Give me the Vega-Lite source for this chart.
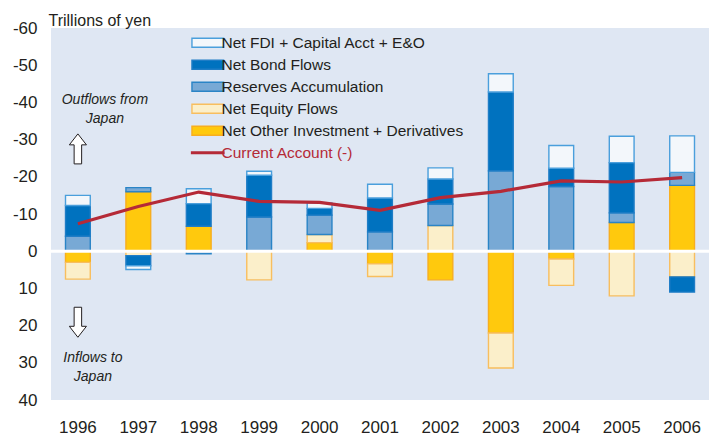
{
  "$schema": "https://vega.github.io/schema/vega-lite/v6.json",
  "width": 658,
  "height": 372,
  "autosize": {"type": "none"},
  "padding": {"left": 51, "top": 28, "right": 0, "bottom": 35},
  "background": "white",
  "config": {
    "view": {"fill": "#dfe7f3", "stroke": null},
    "font": "Liberation Sans",
    "axis": {"domain": false, "ticks": false, "grid": false, "labelColor": "#231f20", "labelFontSize": 17, "labelFont": "Liberation Sans", "labelOverlap": false},
    "axisY": {
      "values": [-60, -50, -40, -30, -20, -10, 0, 10, 20, 30, 40],
      "tickCount": 11,
      "labelOverlap": false,
      "labelSeparation": 0,
      "labelExpr": "'' + datum.value",
      "labelPadding": 14,
      "titleAngle": 0,
      "titleAlign": "left",
      "titleBaseline": "alphabetic",
      "titleX": -3,
      "titleY": -3,
      "titleFontSize": 16,
      "titleFontWeight": "normal",
      "titleColor": "#231f20",
      "titleFont": "Liberation Sans"
    },
    "legend": {
      "title": null,
      "orient": "none",
      "legendX": 149,
      "legendY": 7,
      "symbolSize": 729,
      "symbolStrokeWidth": 1.4,
      "labelOffset": 6,
      "labelFontSize": 15.5,
      "labelFont": "Liberation Sans",
      "labelLimit": 400,
      "rowPadding": 5,
      "padding": 0
    }
  },
  "datasets": {
    "flows": [
      {"year": "1996", "series": "Reserves Accumulation", "value": -4.0},
      {"year": "1996", "series": "Net Bond Flows", "value": -8.3},
      {"year": "1996", "series": "Net FDI + Capital Acct + E&O", "value": -2.7},
      {"year": "1996", "series": "Net Other Investment + Derivatives", "value": 3.0},
      {"year": "1996", "series": "Net Equity Flows", "value": 4.5},
      {"year": "1997", "series": "Net Other Investment + Derivatives", "value": -16.0},
      {"year": "1997", "series": "Reserves Accumulation", "value": -1.1},
      {"year": "1997", "series": "Net Equity Flows", "value": 1.2},
      {"year": "1997", "series": "Net Bond Flows", "value": 2.7},
      {"year": "1997", "series": "Net FDI + Capital Acct + E&O", "value": 1.0},
      {"year": "1998", "series": "Net Other Investment + Derivatives", "value": -6.7},
      {"year": "1998", "series": "Net Bond Flows", "value": -6.1},
      {"year": "1998", "series": "Net FDI + Capital Acct + E&O", "value": -4.0},
      {"year": "1998", "series": "Reserves Accumulation", "value": 0.7},
      {"year": "1999", "series": "Reserves Accumulation", "value": -9.2},
      {"year": "1999", "series": "Net Bond Flows", "value": -11.2},
      {"year": "1999", "series": "Net FDI + Capital Acct + E&O", "value": -1.1},
      {"year": "1999", "series": "Net Equity Flows", "value": 7.7},
      {"year": "2000", "series": "Net Other Investment + Derivatives", "value": -2.3},
      {"year": "2000", "series": "Net Equity Flows", "value": -2.2},
      {"year": "2000", "series": "Reserves Accumulation", "value": -5.2},
      {"year": "2000", "series": "Net Bond Flows", "value": -1.8},
      {"year": "2000", "series": "Net FDI + Capital Acct + E&O", "value": -1.5},
      {"year": "2001", "series": "Reserves Accumulation", "value": -5.2},
      {"year": "2001", "series": "Net Bond Flows", "value": -9.1},
      {"year": "2001", "series": "Net FDI + Capital Acct + E&O", "value": -3.7},
      {"year": "2001", "series": "Net Other Investment + Derivatives", "value": 3.4},
      {"year": "2001", "series": "Net Equity Flows", "value": 3.4},
      {"year": "2002", "series": "Net Equity Flows", "value": -6.9},
      {"year": "2002", "series": "Reserves Accumulation", "value": -5.8},
      {"year": "2002", "series": "Net Bond Flows", "value": -6.7},
      {"year": "2002", "series": "Net FDI + Capital Acct + E&O", "value": -3.0},
      {"year": "2002", "series": "Net Other Investment + Derivatives", "value": 7.7},
      {"year": "2003", "series": "Reserves Accumulation", "value": -21.6},
      {"year": "2003", "series": "Net Bond Flows", "value": -21.2},
      {"year": "2003", "series": "Net FDI + Capital Acct + E&O", "value": -4.9},
      {"year": "2003", "series": "Net Other Investment + Derivatives", "value": 22.0},
      {"year": "2003", "series": "Net Equity Flows", "value": 9.4},
      {"year": "2004", "series": "Reserves Accumulation", "value": -17.4},
      {"year": "2004", "series": "Net Bond Flows", "value": -4.9},
      {"year": "2004", "series": "Net FDI + Capital Acct + E&O", "value": -6.1},
      {"year": "2004", "series": "Net Other Investment + Derivatives", "value": 2.1},
      {"year": "2004", "series": "Net Equity Flows", "value": 7.1},
      {"year": "2005", "series": "Net Other Investment + Derivatives", "value": -7.7},
      {"year": "2005", "series": "Reserves Accumulation", "value": -2.6},
      {"year": "2005", "series": "Net Bond Flows", "value": -13.5},
      {"year": "2005", "series": "Net FDI + Capital Acct + E&O", "value": -7.1},
      {"year": "2005", "series": "Net Equity Flows", "value": 12.0},
      {"year": "2006", "series": "Net Other Investment + Derivatives", "value": -17.7},
      {"year": "2006", "series": "Reserves Accumulation", "value": -3.5},
      {"year": "2006", "series": "Net FDI + Capital Acct + E&O", "value": -9.8},
      {"year": "2006", "series": "Net Equity Flows", "value": 6.9},
      {"year": "2006", "series": "Net Bond Flows", "value": 4.1}
    ],
    "ca": [
      {"year": "1996", "series": "Current Account (-)", "value": -7.4},
      {"year": "1997", "series": "Current Account (-)", "value": -12.0},
      {"year": "1998", "series": "Current Account (-)", "value": -15.9},
      {"year": "1999", "series": "Current Account (-)", "value": -13.4},
      {"year": "2000", "series": "Current Account (-)", "value": -13.1},
      {"year": "2001", "series": "Current Account (-)", "value": -11.0},
      {"year": "2002", "series": "Current Account (-)", "value": -14.4},
      {"year": "2003", "series": "Current Account (-)", "value": -16.1},
      {"year": "2004", "series": "Current Account (-)", "value": -18.9},
      {"year": "2005", "series": "Current Account (-)", "value": -18.6},
      {"year": "2006", "series": "Current Account (-)", "value": -19.8}
    ],
    "arrows": [
      {"year": "1996", "value": -27.5, "dir": "up"},
      {"year": "1996", "value": 19.1, "dir": "down"}
    ]
  },
  "layer": [
    {
      "data": {"name": "flows"},
      "transform": [
        {"calculate": "indexof(['Net Other Investment + Derivatives','Net Equity Flows','Reserves Accumulation','Net Bond Flows','Net FDI + Capital Acct + E&O'], datum.series)", "as": "k"}
      ],
      "mark": {"type": "bar", "strokeWidth": 1.4},
      "encoding": {
        "x": {
          "field": "year", "type": "nominal",
          "scale": {"paddingInner": 0.59, "paddingOuter": 0.24},
          "axis": {"title": null, "labelAngle": 0, "labelPadding": 19, "labelBaseline": "top"}
        },
        "y": {
          "field": "value", "type": "quantitative", "stack": "zero",
          "scale": {"domain": [-60, 40], "reverse": true, "nice": false, "zero": false},
          "axis": {"title": "Trillions of yen", "values": [-60, -50, -40, -30, -20, -10, 0, 10, 20, 30, 40], "labelOverlap": false, "tickCount": 11}
        },
        "color": {
          "field": "series", "type": "nominal",
          "scale": {
            "domain": ["Net FDI + Capital Acct + E&O", "Net Bond Flows", "Reserves Accumulation", "Net Equity Flows", "Net Other Investment + Derivatives", "Current Account (-)"],
            "range": ["#f3f7fb", "#0072bf", "#78a9d5", "#fbefca", "#ffc90d", "#b52a37"]
          },
          "legend": {
            "encode": {
              "symbols": {
                "update": {
                  "shape": {"signal": "datum.value == 'Current Account (-)' ? 'M-1.25,0H1.25' : 'M-1.17,-0.33H1.17V0.33H-1.17Z'"},
                  "strokeWidth": {"signal": "datum.value == 'Current Account (-)' ? 3 : 1.4"}
                }
              },
              "labels": {
                "update": {
                  "fill": {"signal": "datum.value == 'Current Account (-)' ? '#b52a37' : '#231f20'"}
                }
              }
            }
          }
        },
        "stroke": {
          "field": "series", "type": "nominal",
          "scale": {
            "domain": ["Net FDI + Capital Acct + E&O", "Net Bond Flows", "Reserves Accumulation", "Net Equity Flows", "Net Other Investment + Derivatives", "Current Account (-)"],
            "range": ["#4a9fdc", "#1f7dc6", "#2a84c6", "#f8be5e", "#f7ae1f", "#b52a37"]
          },
          "legend": {
            "encode": {
              "symbols": {
                "update": {
                  "shape": {"signal": "datum.value == 'Current Account (-)' ? 'M-1.25,0H1.25' : 'M-1.17,-0.33H1.17V0.33H-1.17Z'"},
                  "strokeWidth": {"signal": "datum.value == 'Current Account (-)' ? 3 : 1.4"}
                }
              },
              "labels": {
                "update": {
                  "fill": {"signal": "datum.value == 'Current Account (-)' ? '#b52a37' : '#231f20'"}
                }
              }
            }
          }
        },
        "order": {"field": "k", "type": "quantitative"}
      }
    },
    {
      "data": {"values": [{"value": 0}]},
      "mark": {"type": "rule", "color": "white", "strokeWidth": 3},
      "encoding": {"y": {"field": "value", "type": "quantitative", "axis": {"title": "Trillions of yen", "values": [-60, -50, -40, -30, -20, -10, 0, 10, 20, 30, 40], "labelOverlap": false, "tickCount": 11}}}
    },
    {
      "data": {"name": "ca"},
      "mark": {"type": "line", "strokeWidth": 3.2},
      "encoding": {
        "x": {"field": "year", "type": "nominal"},
        "y": {"field": "value", "type": "quantitative", "axis": {"title": "Trillions of yen", "values": [-60, -50, -40, -30, -20, -10, 0, 10, 20, 30, 40], "labelOverlap": false, "tickCount": 11}},
        "stroke": {
          "field": "series", "type": "nominal",
          "legend": {
            "encode": {
              "symbols": {
                "update": {
                  "shape": {"signal": "datum.value == 'Current Account (-)' ? 'M-1.25,0H1.25' : 'M-1.17,-0.33H1.17V0.33H-1.17Z'"},
                  "strokeWidth": {"signal": "datum.value == 'Current Account (-)' ? 3 : 1.4"}
                }
              },
              "labels": {
                "update": {
                  "fill": {"signal": "datum.value == 'Current Account (-)' ? '#b52a37' : '#231f20'"}
                }
              }
            }
          }
        }
      }
    },
    {
      "data": {"values": [{"year": "1996", "value": -39.5, "text": ["Outflows from", "Japan"]}]},
      "mark": {"type": "text", "fontStyle": "italic", "fontSize": 14, "font": "Liberation Sans", "color": "#231f20", "align": "center", "baseline": "alphabetic", "lineHeight": 19, "dx": 27},
      "encoding": {
        "x": {"field": "year", "type": "nominal"},
        "y": {"field": "value", "type": "quantitative", "axis": {"title": "Trillions of yen", "values": [-60, -50, -40, -30, -20, -10, 0, 10, 20, 30, 40], "labelOverlap": false, "tickCount": 11}},
        "text": {"field": "text"}
      }
    },
    {
      "data": {"values": [{"year": "1996", "value": 29.7, "text": ["Inflows to", "Japan"]}]},
      "mark": {"type": "text", "fontStyle": "italic", "fontSize": 14, "font": "Liberation Sans", "color": "#231f20", "align": "center", "baseline": "alphabetic", "lineHeight": 19, "dx": 15},
      "encoding": {
        "x": {"field": "year", "type": "nominal"},
        "y": {"field": "value", "type": "quantitative", "axis": {"title": "Trillions of yen", "values": [-60, -50, -40, -30, -20, -10, 0, 10, 20, 30, 40], "labelOverlap": false, "tickCount": 11}},
        "text": {"field": "text"}
      }
    },
    {
      "data": {"name": "arrows"},
      "mark": {"type": "point", "filled": true, "fill": "white", "stroke": "#231f20", "strokeWidth": 1, "size": 900, "opacity": 1},
      "encoding": {
        "x": {"field": "year", "type": "nominal"},
        "y": {"field": "value", "type": "quantitative", "axis": {"title": "Trillions of yen", "values": [-60, -50, -40, -30, -20, -10, 0, 10, 20, 30, 40], "labelOverlap": false, "tickCount": 11}},
        "shape": {
          "field": "dir", "type": "nominal",
          "scale": {"domain": ["up", "down"], "range": ["M0,-1L0.57,-0.27L0.25,-0.27L0.25,1L-0.25,1L-0.25,-0.27L-0.57,-0.27Z", "M0,1L0.57,0.27L0.25,0.27L0.25,-1L-0.25,-1L-0.25,0.27L-0.57,0.27Z"]},
          "legend": null
        }
      }
    }
  ]
}
